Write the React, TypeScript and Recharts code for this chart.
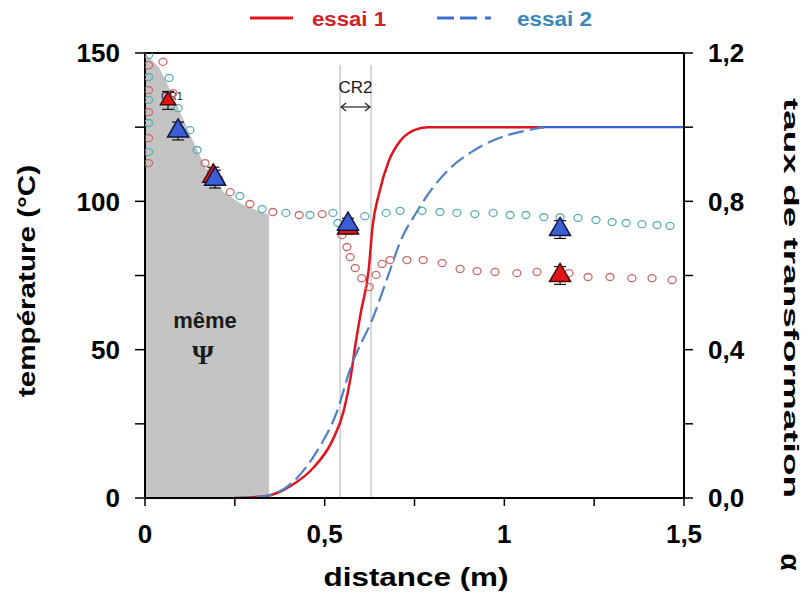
import React from 'react';
import {
  ComposedChart,
  Line,
  Scatter,
  Area,
  XAxis,
  YAxis,
  ReferenceLine,
  ReferenceDot,
  ErrorBar,
} from 'recharts';

const FONT = '"Liberation Sans", Arial, Helvetica, sans-serif';

// ---- transformation ratio alpha (right axis) ----
const alpha1X = [0.25, 0.3, 0.342, 0.404, 0.468, 0.521, 0.553, 0.572, 0.586, 0.6, 0.623, 0.633, 0.651, 0.679, 0.712, 0.749, 0.787, 1.11];
const alpha1Y = [0, 0.002, 0.006, 0.032, 0.081, 0.154, 0.235, 0.324, 0.416, 0.497, 0.62, 0.73, 0.82, 0.91, 0.965, 0.992, 1.0, 1.0];
const alpha2X = [0.25, 0.3, 0.35, 0.423, 0.479, 0.535, 0.572, 0.636, 0.675, 0.712, 0.754, 0.796, 0.852, 0.917, 0.97, 1.057, 1.11];
const alpha2Y = [0, 0.002, 0.008, 0.054, 0.127, 0.235, 0.351, 0.49, 0.595, 0.695, 0.768, 0.83, 0.892, 0.938, 0.965, 0.99, 1.0];
const alpha2TailX = [1.11, 1.5];
const alpha2TailY = [1.0, 1.0];

// ---- temperature, simulated (circles) ----
const temp1X = [0.01, 0.01, 0.01, 0.01, 0.01, 0.05, 0.078, 0.167, 0.205, 0.237, 0.292, 0.356, 0.429, 0.493, 0.548, 0.562, 0.571, 0.585, 0.603, 0.624, 0.643, 0.66, 0.682, 0.729, 0.774, 0.827, 0.877, 0.924, 0.974, 1.035, 1.091, 1.18, 1.233, 1.294, 1.355, 1.411, 1.467];
const temp1Y = [145.9, 137.5, 130.1, 121.3, 112.9, 147, 136.5, 112.9, 107.5, 103.1, 99.1, 96.4, 95.4, 95.7, 88.6, 84.6, 81.2, 77.5, 74.1, 71.1, 75.2, 78.9, 80.2, 80.2, 80.2, 79.2, 77.2, 76.5, 76.2, 75.8, 76.2, 75.8, 74.5, 74.5, 74.1, 74.1, 73.5];
const temp2X = [0.01, 0.01, 0.01, 0.01, 0.01, 0.067, 0.092, 0.125, 0.145, 0.185, 0.264, 0.326, 0.392, 0.459, 0.523, 0.537, 0.612, 0.671, 0.71, 0.771, 0.821, 0.868, 0.918, 0.969, 1.016, 1.06, 1.11, 1.155, 1.205, 1.255, 1.3, 1.339, 1.383, 1.425, 1.461];
const temp2Y = [149.3, 141.9, 134.2, 126.4, 116.6, 141.6, 131.4, 124, 117.3, 110, 101.8, 97.4, 96.1, 95.4, 96.1, 92.7, 95, 96.1, 96.8, 96.8, 96.4, 96.1, 95.7, 96.1, 95.4, 95.4, 94.7, 94.7, 94.4, 93.7, 93, 92.7, 92.3, 92, 91.7];

// ---- temperature, measured (triangles) ----
const meas1X = [0.064, 0.19, 0.565, 1.155];
const meas1Y = [134, 108.5, 91, 75];
const meas1Err = [3, 3, 2, 3];
const meas2X = [0.092, 0.195, 0.565, 1.155];
const meas2Y = [123.7, 107.5, 92.3, 90.5];
const meas2Err = [3, 3, 2, 3];

// ---- shaded zone "même Ψ" ----
const shadeX = [0, 0.04, 0.08, 0.12, 0.17, 0.22, 0.27, 0.31, 0.345];
const shadeY = [150, 145, 135, 124, 111, 103, 99, 97, 95.5];

// ---- critical zone CR2 ----
const cr2Bounds = [0.543, 0.629];

// ---- ticks ----
const xTicks = [0, 0.25, 0.5, 0.75, 1, 1.25, 1.5];
const xLabels = [0, 0.5, 1, 1.5];
const yLeftTicks = [0, 25, 50, 75, 100, 125, 150];
const yLeftLabels = [0, 50, 100, 150];
const yRightTicks = [0, 0.2, 0.4, 0.6, 0.8, 1, 1.2];
const yRightLabels = [0, 0.4, 0.8, 1.2];

const pts = (xs: number[], ys: number[], key: string) => xs.map((x, i) => ({ x, [key]: ys[i] }));
const ptsErr = (xs: number[], ys: number[], es: number[]) => xs.map((x, i) => ({ x, t: ys[i], e: es[i] }));

const alpha1Data = pts(alpha1X, alpha1Y, 'a');
const alpha2Data = pts(alpha2X, alpha2Y, 'a');
const alpha2TailData = pts(alpha2TailX, alpha2TailY, 'a');
const temp1Data = pts(temp1X, temp1Y, 't');
const temp2Data = pts(temp2X, temp2Y, 't');
const meas1Data = ptsErr(meas1X, meas1Y, meas1Err);
const meas2Data = ptsErr(meas2X, meas2Y, meas2Err);
const shadeData = pts(shadeX, shadeY, 'g');

const comma = (v: number, digits?: number) =>
  (digits !== undefined ? v.toFixed(digits) : String(v)).replace('.', ',');

const fmtX = (v: number) => (xLabels.some((l) => Math.abs(l - v) < 1e-6) ? comma(v) : '');
const fmtYL = (v: number) => (yLeftLabels.includes(v) ? String(v) : '');
const fmtYR = (v: number) => (yRightLabels.some((l) => Math.abs(l - v) < 1e-6) ? comma(v, 1) : '');

const tickStyle = { fontSize: 26, fontWeight: 700, fill: '#000', fontFamily: FONT };

const circleShape = (color: string) => (p: any) =>
  p.cx == null ? <g /> : (
    <ellipse cx={p.cx} cy={p.cy} rx={4} ry={3.5} fill="none" stroke={color} strokeWidth={1.3} />
  );

const triShape = (fill: string, stroke: string) => (p: any) => {
  if (p.cx == null) return <g />;
  const small = p.payload && p.payload.x < 0.07;
  const s = small ? 15 : 21;
  const h = s * 0.866;
  const { cx, cy } = p;
  const d = `M${cx},${cy - (2 * h) / 3} L${cx + s / 2},${cy + h / 3} L${cx - s / 2},${cy + h / 3} Z`;
  return <path d={d} fill={fill} stroke={stroke} strokeWidth={1.5} />;
};

const arrowShape = (p: any) => {
  const { x1, y1, x2, y2 } = p;
  if (x1 == null) return <g />;
  return (
    <g stroke="#222" strokeWidth={1.2} fill="none">
      <line x1={x1 + 1} y1={y1} x2={x2 - 1} y2={y2} />
      <path d={`M${x1 + 6},${y1 - 4} L${x1 + 1},${y1} L${x1 + 6},${y1 + 4}`} />
      <path d={`M${x2 - 6},${y2 - 4} L${x2 - 1},${y2} L${x2 - 6},${y2 + 4}`} />
    </g>
  );
};

const textShape = (txt: string, size: number, opts: any = {}) => (p: any) =>
  p.cx == null ? <g /> : (
    <text
      x={p.cx}
      y={p.cy}
      textAnchor="middle"
      dominantBaseline="central"
      fontSize={size}
      fontFamily={opts.family || FONT}
      fontWeight={opts.weight || 400}
      fill={opts.fill || '#1a1a1a'}
    >
      {txt}
    </text>
  );

export default function App() {
  return (
    <div style={{ position: 'relative', width: 800, height: 600 }}>
      <ComposedChart
        width={800}
        height={600}
        margin={{ top: 45, right: 24, bottom: 60, left: 20 }}
        style={{ background: '#fff' }}
      >
        <XAxis
          type="number"
          dataKey="x"
          domain={[0, 1.5]}
          ticks={xTicks}
          interval={0}
          allowDataOverflow
          tickFormatter={fmtX}
          tickSize={8}
          tickMargin={19}
          height={50}
          axisLine={{ stroke: '#000', strokeWidth: 2 }}
          tickLine={{ stroke: '#000', strokeWidth: 1.5 }}
          tick={tickStyle}
        />
        <YAxis
          yAxisId="left"
          type="number"
          domain={[0, 150]}
          ticks={yLeftTicks}
          interval={0}
          allowDataOverflow
          tickFormatter={fmtYL}
          tickSize={10}
          tickMargin={15}
          width={117}
          axisLine={{ stroke: '#000', strokeWidth: 2 }}
          tickLine={{ stroke: '#000', strokeWidth: 1.5 }}
          tick={tickStyle}
        />
        <YAxis
          yAxisId="right"
          orientation="right"
          type="number"
          domain={[0, 1.2]}
          ticks={yRightTicks}
          interval={0}
          allowDataOverflow
          tickFormatter={fmtYR}
          tickSize={9}
          tickMargin={15}
          width={100}
          axisLine={{ stroke: '#000', strokeWidth: 2 }}
          tickLine={{ stroke: '#000', strokeWidth: 1.5 }}
          tick={{ ...tickStyle, textAnchor: 'start' }}
        />

        <Area
          yAxisId="left"
          data={shadeData}
          dataKey="g"
          type="linear"
          stroke="none"
          fill="#c3c3c3"
          fillOpacity={1}
          baseValue={0}
          isAnimationActive={false}
          legendType="none"
        />

        <ReferenceLine yAxisId="left" y={150} stroke="#000" strokeWidth={2} />
        {cr2Bounds.map((b) => (
          <ReferenceLine
            key={b}
            yAxisId="left"
            segment={[{ x: b, y: 0 }, { x: b, y: 146 }]}
            stroke="#b0b0b0"
            strokeWidth={1}
          />
        ))}
        <ReferenceLine
          yAxisId="left"
          segment={[{ x: cr2Bounds[0], y: 131.8 }, { x: cr2Bounds[1], y: 131.8 }]}
          shape={arrowShape}
        />
        <ReferenceDot yAxisId="left" x={0.586} y={138.5} r={0} shape={textShape('CR2', 17)} />
        <ReferenceDot yAxisId="left" x={0.075} y={135.5} r={0} shape={textShape('CR1', 11)} />
        <ReferenceDot yAxisId="left" x={0.167} y={60} r={0} shape={textShape('même', 22, { weight: 700 })} />
        <ReferenceDot
          yAxisId="left"
          x={0.161}
          y={48.5}
          r={0}
          shape={textShape('Ψ', 28, { weight: 700, family: '"Liberation Serif", "Times New Roman", serif' })}
        />

        <Scatter
          yAxisId="left"
          data={temp1Data}
          dataKey="t"
          shape={circleShape('#c86a6a')}
          isAnimationActive={false}
          legendType="none"
        />
        <Scatter
          yAxisId="left"
          data={temp2Data}
          dataKey="t"
          shape={circleShape('#5aafb0')}
          isAnimationActive={false}
          legendType="none"
        />

        <Line
          yAxisId="right"
          data={alpha1Data}
          dataKey="a"
          type="monotone"
          stroke="#e0141e"
          strokeWidth={2.5}
          dot={false}
          isAnimationActive={false}
          name="essai 1"
        />
        <Line
          yAxisId="right"
          data={alpha2Data}
          dataKey="a"
          type="monotone"
          stroke="#4f7fc4"
          strokeWidth={2.2}
          strokeDasharray="16 6"
          dot={false}
          isAnimationActive={false}
          name="essai 2"
        />
        <Line
          yAxisId="right"
          data={alpha2TailData}
          dataKey="a"
          type="linear"
          stroke="#3463d6"
          strokeWidth={2.2}
          dot={false}
          isAnimationActive={false}
          legendType="none"
        />

        <Scatter
          yAxisId="left"
          data={meas1Data}
          dataKey="t"
          shape={triShape('#e21515', '#4a0808')}
          isAnimationActive={false}
          legendType="none"
        >
          <ErrorBar dataKey="e" direction="y" width={6} stroke="#111" strokeWidth={1.2} />
        </Scatter>
        <Scatter
          yAxisId="left"
          data={meas2Data}
          dataKey="t"
          shape={triShape('#3a5fd6', '#14143c')}
          isAnimationActive={false}
          legendType="none"
        >
          <ErrorBar dataKey="e" direction="y" width={6} stroke="#111" strokeWidth={1.2} />
        </Scatter>
      </ComposedChart>

      <svg
        width={809}
        height={609}
        style={{ position: 'absolute', left: -8, top: -8, pointerEvents: 'none' }}
      >
        {/* legend */}
        <line x1={250} y1={18} x2={293} y2={18} stroke="#e0141e" strokeWidth={3} />
        <text x={312} y={26} fontSize={20} fontWeight={700} fontFamily={FONT} fill="#d0202a" textLength={74} lengthAdjust="spacingAndGlyphs">
          essai 1
        </text>
        <g stroke="#3a70c8" strokeWidth={3}>
          <line x1={437} y1={18} x2={454} y2={18} />
          <line x1={460} y1={18} x2={477} y2={18} />
          <line x1={485} y1={18} x2={491} y2={18} />
        </g>
        <text x={517} y={26} fontSize={20} fontWeight={700} fontFamily={FONT} fill="#3a88bb" textLength={75} lengthAdjust="spacingAndGlyphs">
          essai 2
        </text>

        {/* x title */}
        <text x={416} y={586} textAnchor="middle" fontSize={26} fontWeight={700} fontFamily={FONT} fill="#000" textLength={185} lengthAdjust="spacingAndGlyphs">
          distance (m)
        </text>
        {/* left title */}
        <text
          x={35}
          y={281}
          transform="rotate(-90, 35, 281)"
          textAnchor="middle"
          fontSize={24}
          fontWeight={700}
          fontFamily={FONT}
          fill="#000"
          textLength={232}
          lengthAdjust="spacingAndGlyphs"
        >
          température (°C)
        </text>
        {/* right title */}
        <text
          x={784}
          y={98}
          transform="rotate(90, 784, 98)"
          textAnchor="start"
          fontSize={21}
          fontWeight={700}
          fontFamily={FONT}
          fill="#000"
          textLength={400}
          lengthAdjust="spacingAndGlyphs"
        >
          taux de transformation
        </text>
        <text
          x={781}
          y={562}
          transform="rotate(90, 781, 562)"
          textAnchor="middle"
          fontSize={28}
          fontWeight={700}
          fontFamily={FONT}
          fill="#000"
        >
          α
        </text>
      </svg>
    </div>
  );
}
